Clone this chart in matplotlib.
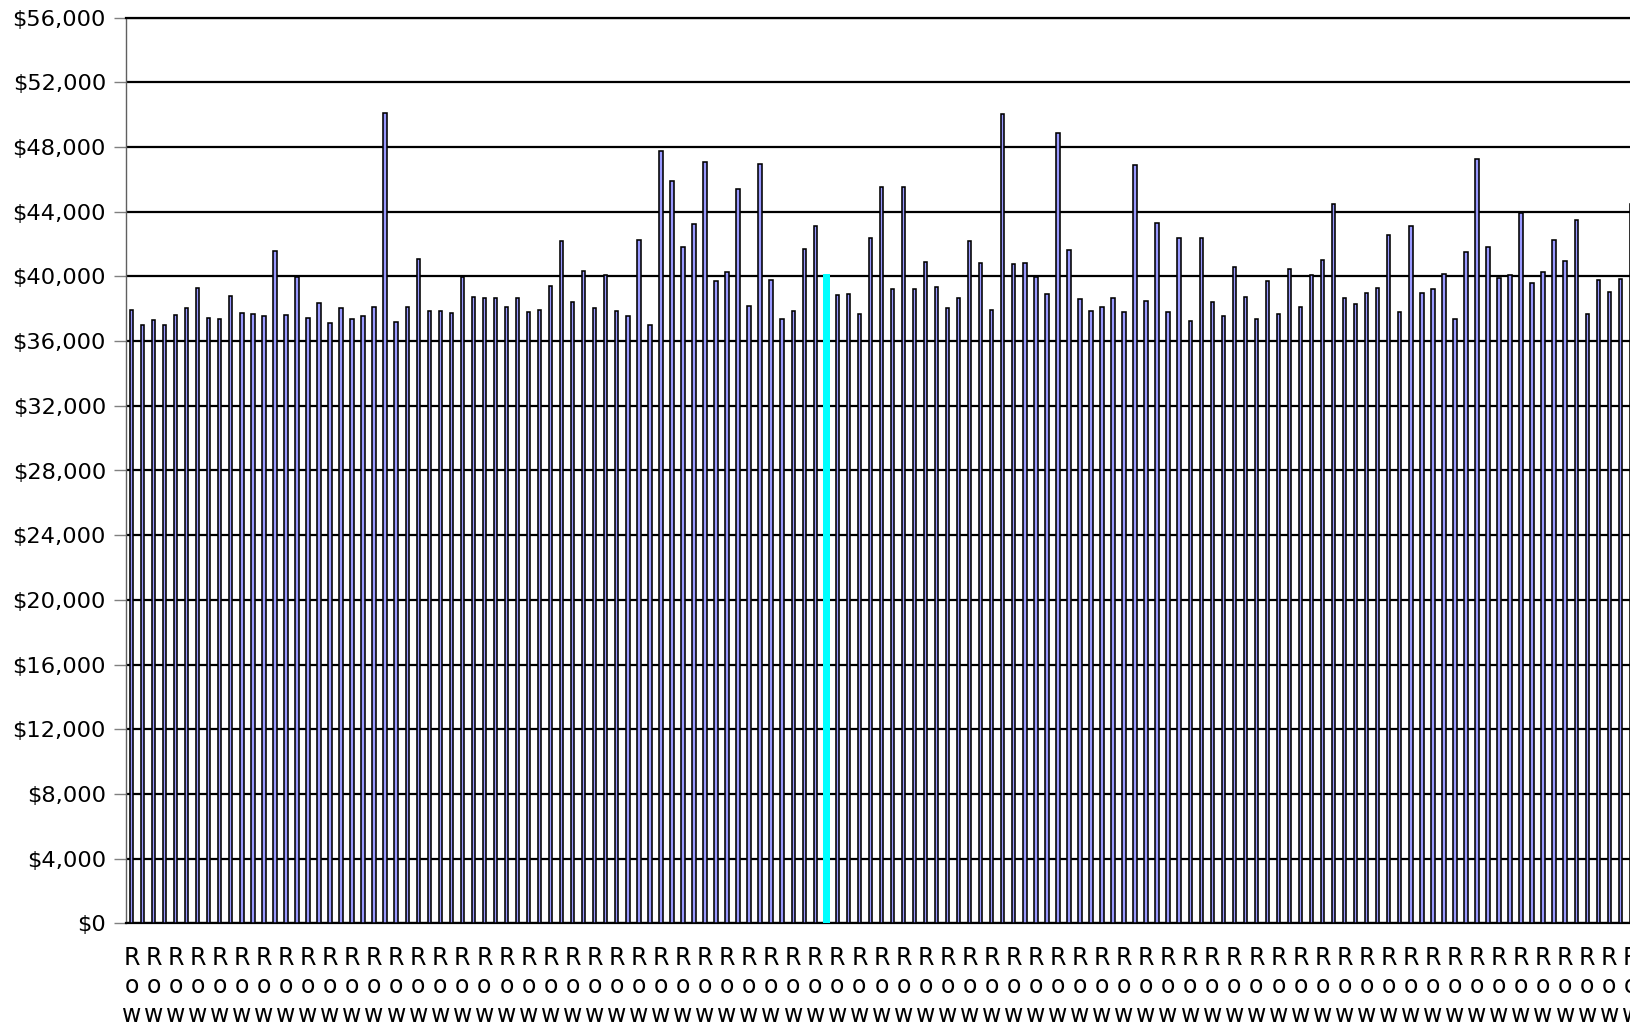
import matplotlib
matplotlib.use("Agg")
import matplotlib.pyplot as plt
from matplotlib.ticker import FuncFormatter

# ---- data ----
values = [
    37920, 36970, 37320, 36970, 37590, 38070, 39290, 37430, 37380, 38790,
    37710, 37650, 37550, 41560, 37610, 39950, 37430, 38360, 37140, 38070,
    37380, 37550, 38110,
    50090, 37180, 38090, 41060, 37860, 37860, 37740, 39970, 38750, 38690,
    38640, 38110, 38640, 37780, 37940, 39430, 42200, 38420, 40360, 38050,
    40090, 37860,
    37530, 42240, 36970, 47740, 45900, 41830, 43250, 47050, 39720, 40280,
    45420, 38150, 46930, 39780, 37380, 37880, 41680, 43110, 40150, 38850,
    38930, 37670, 42380,
    45500, 39240, 45500, 39240, 40920, 39330, 38050, 38690, 42200, 40810,
    37940, 50050, 40750, 40830, 39990, 38930, 48850, 41640, 38620, 37840,
    38130, 38690, 37820,
    46910, 38480, 43310, 37820, 42400, 37220, 42380, 38420, 37550, 40590,
    38730, 37360, 39720, 37690, 40480, 38130, 40110, 41000, 44450, 38670,
    38290, 38950, 39310,
    42590, 37780, 43130, 39000, 39240, 40130, 37360, 41480, 47260, 41810,
    39880, 40070, 43910, 39620, 40280, 42280, 40940, 43480, 37690, 39760,
    39040, 39860, 44450,
]
categories = ["Row"] * len(values)
highlight_index = 63
y_ticks = list(range(0, 56001, 4000))

# ---- figure ----
W, H, DPI = 1631, 1030, 100
fig = plt.figure(figsize=(W / DPI, H / DPI), dpi=DPI)
fig.patch.set_facecolor("white")

left_px, right_px = 126, 1681
top_px, bottom_px = 17.6, 923.4
ax = fig.add_axes([left_px / W, (H - bottom_px) / H,
                   (right_px - left_px) / W, (bottom_px - top_px) / H])
ax.set_facecolor("white")

FONT = "DejaVu Sans"
FS = 16.2
XFS = 17.0

x = list(range(len(values)))
normal_x = [i for i in x if i != highlight_index]
normal_v = [values[i] for i in normal_x]
ax.bar(normal_x, normal_v, width=0.31, color="#9999FF",
       edgecolor="black", linewidth=1.15, zorder=3)
ax.bar([highlight_index], [values[highlight_index]], width=0.62,
       color="#00FFFF", edgecolor="none", linewidth=0, zorder=4)

ax.set_xlim(-0.5, len(values) + 3.5)
ax.set_ylim(0, 56000)
ax.set_yticks(y_ticks)
ax.yaxis.set_major_formatter(FuncFormatter(lambda v, p: "${:,.0f}".format(v)))
ax.set_axisbelow(True)
ax.yaxis.grid(True, color="black", linewidth=1.6)
ax.xaxis.grid(False)

# Labels shown for every other category (as in the reference)
ax.set_xticks(x[::2])
ax.set_xticklabels(["\n".join(c) for c in categories[::2]], fontsize=XFS,
                   family=FONT, linespacing=1.22)
ax.tick_params(axis="x", length=0, pad=16.5)
ax.tick_params(axis="y", length=8.4, width=1, color="#808080", pad=6,
               labelsize=FS)
for lab in ax.get_yticklabels():
    lab.set_family(FONT)

ax.spines["right"].set_visible(False)
ax.spines["top"].set_color("black")
ax.spines["top"].set_linewidth(1.6)
ax.spines["left"].set_color("#606060")
ax.spines["left"].set_linewidth(1)
ax.spines["bottom"].set_color("black")
ax.spines["bottom"].set_linewidth(1.6)

fig.savefig("out.png", dpi=DPI)
